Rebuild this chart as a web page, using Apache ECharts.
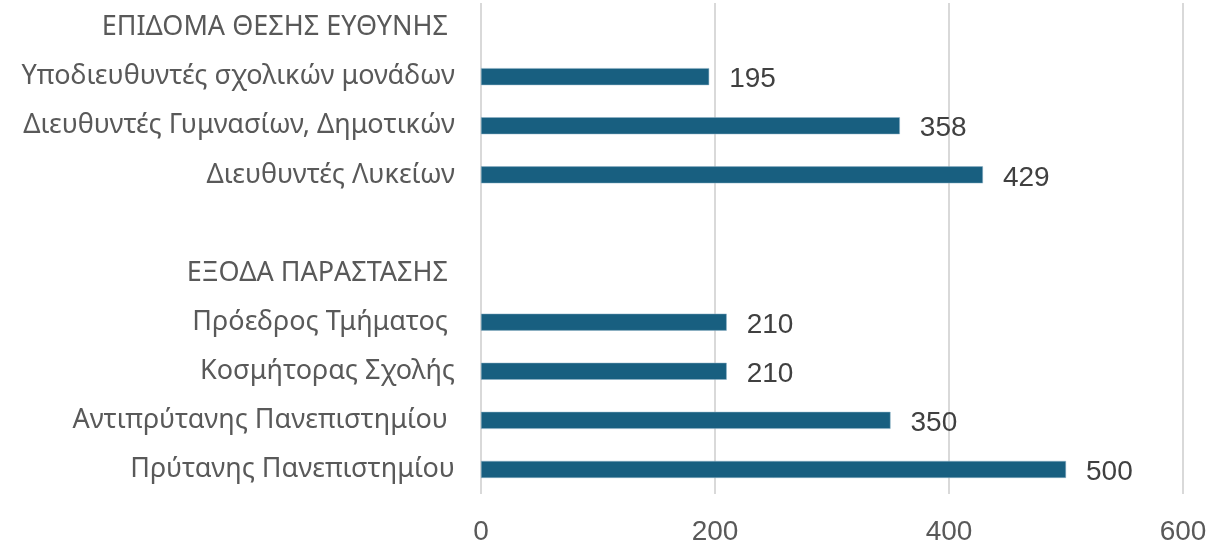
<!DOCTYPE html>
<html>
<head>
<meta charset="utf-8">
<script src="https://cdn.jsdelivr.net/npm/echarts@6/dist/echarts.min.js"></script>
<style>
  html, body { margin: 0; padding: 0; background: #fff; }
  #chart { width: 1227px; height: 547px; }
</style>
</head>
<body>
<div id="chart"></div>
<script>
// top-to-bottom rows; headers and spacer rows carry no value
const categories = [
  'ΕΠΙΔΟΜΑ ΘΕΣΗΣ ΕΥΘΥΝΗΣ ',
  'Υποδιευθυντές σχολικών μονάδων',
  'Διευθυντές Γυμνασίων, Δημοτικών',
  'Διευθυντές Λυκείων',
  '',
  'ΕΞΟΔΑ ΠΑΡΑΣΤΑΣΗΣ ',
  'Πρόεδρος Τμήματος ',
  'Κοσμήτορας Σχολής',
  'Αντιπρύτανης Πανεπιστημίου ',
  'Πρύτανης Πανεπιστημίου'
]
const values = [null, 195, 358, 429, null, null, 210, 210, 350, 500]
const xTicks = [0, 200, 400, 600]

const chart = echarts.init(document.getElementById('chart'))

chart.setOption({
  animation: false,
  grid: {
    left: 481,
    right: 44,
    top: 3,
    bottom: 53
  },
  xAxis: {
    type: 'value',
    min: xTicks[0],
    max: xTicks[xTicks.length - 1],
    interval: 200,
    axisLine: { show: false },
    axisTick: { show: false },
    axisLabel: {
      margin: 24,
      fontFamily: 'Liberation Sans',
      fontSize: 28,
      color: '#595959'
    },
    splitLine: {
      show: true,
      lineStyle: { color: '#d9d9d9', width: 2 }
    }
  },
  yAxis: {
    type: 'category',
    data: categories,
    inverse: true,
    axisLine: { show: false },
    axisTick: { show: false },
    axisLabel: {
      margin: 26,
      fontFamily: 'Noto Sans',
      fontSize: 27,
      color: '#595959'
    }
  },
  series: [
    {
      type: 'bar',
      data: values,
      barWidth: 17,
      itemStyle: {
        color: '#185f80',
        borderColor: '#8fb3c6',
        borderWidth: 0.5
      },
      label: {
        show: true,
        position: 'right',
        distance: 20,
        offset: [0, 3],
        fontFamily: 'Liberation Sans',
        fontSize: 28,
        color: '#404040'
      }
    }
  ]
})
</script>
</body>
</html>
